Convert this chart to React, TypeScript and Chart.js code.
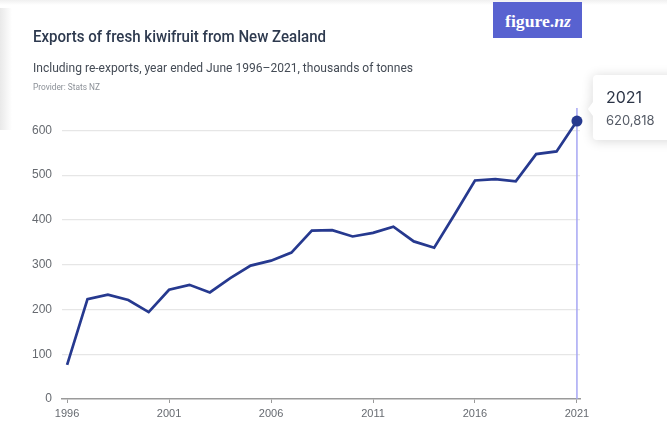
import React, { useEffect, useRef } from "react";
import { Chart, registerables } from "chart.js";

Chart.register(...registerables);

// ---- data ----
const years = [
  1996, 1997, 1998, 1999, 2000, 2001, 2002, 2003, 2004, 2005, 2006, 2007, 2008,
  2009, 2010, 2011, 2012, 2013, 2014, 2015, 2016, 2017, 2018, 2019, 2020, 2021,
];
const exportsThousandTonnes = [
  76, 223, 233, 221, 194, 244, 255, 238, 270, 298, 309, 327, 376, 377, 363, 371,
  385, 352, 338, 412, 488, 491, 486, 547, 553, 620.818,
];
const xTickYears = [1996, 2001, 2006, 2011, 2016, 2021];
const yTickValues = [0, 100, 200, 300, 400, 500, 600];

const titleText = "Exports of fresh kiwifruit from New Zealand";
const subtitleText = "Including re-exports, year ended June 1996–2021, thousands of tonnes";
const providerText = "Provider: Stats NZ";
const tooltipTitle = "2021";
const tooltipValue = "620,818";

const LINE_COLOR = "#26398f";
const HEAD_FONT = "'Roboto', 'Liberation Sans', sans-serif";
const TICK_FONT = "'Liberation Sans', 'Roboto', sans-serif";

const highlightPlugin = {
  id: "highlight",
  beforeDatasetsDraw(chart: any) {
    const meta = chart.getDatasetMeta(0);
    const pt = meta.data[meta.data.length - 1];
    const { top, bottom } = chart.chartArea;
    const ctx = chart.ctx;
    ctx.save();
    ctx.strokeStyle = "#a6a6f3";
    ctx.lineWidth = 1.5;
    ctx.beginPath();
    ctx.moveTo(pt.x, top);
    ctx.lineTo(pt.x, bottom);
    ctx.stroke();
    ctx.restore();
  },
  afterDraw(chart: any) {
    const meta = chart.getDatasetMeta(0);
    const pt = meta.data[meta.data.length - 1];
    const ctx = chart.ctx;
    const bx = pt.x + 16;
    const by = pt.y - 46;
    const bw = 100;
    const bh = 65;
    const r = 4;
    ctx.save();
    ctx.shadowColor = "rgba(0,0,0,0.16)";
    ctx.shadowBlur = 12;
    ctx.shadowOffsetX = 0;
    ctx.shadowOffsetY = 1;
    ctx.fillStyle = "#ffffff";
    ctx.beginPath();
    ctx.moveTo(bx + r, by);
    ctx.lineTo(bx + bw - r, by);
    ctx.quadraticCurveTo(bx + bw, by, bx + bw, by + r);
    ctx.lineTo(bx + bw, by + bh - r);
    ctx.quadraticCurveTo(bx + bw, by + bh, bx + bw - r, by + bh);
    ctx.lineTo(bx + r, by + bh);
    ctx.quadraticCurveTo(bx, by + bh, bx, by + bh - r);
    ctx.lineTo(bx, pt.y - 5);
    ctx.lineTo(bx - 5, pt.y - 12);
    ctx.lineTo(bx, pt.y - 19);
    ctx.lineTo(bx, by + r);
    ctx.quadraticCurveTo(bx, by, bx + r, by);
    ctx.closePath();
    ctx.fill();
    ctx.restore();

    ctx.save();
    ctx.textAlign = "left";
    ctx.textBaseline = "alphabetic";
    ctx.fillStyle = "#2c3547";
    ctx.font = "16px 'Inter', 'Liberation Sans', sans-serif";
    ctx.fillText(tooltipTitle, bx + 13, pt.y - 18);
    ctx.fillStyle = "#555b66";
    ctx.font = "13px 'Inter', 'Liberation Sans', sans-serif";
    ctx.fillText(tooltipValue, bx + 13, pt.y + 4);
    ctx.restore();
  },
};

function FitText(props: {
  text: React.ReactNode;
  left: number;
  baseline: number;
  size: number;
  width: number;
  color: string;
  weight?: number | string;
  family?: string;
}) {
  const ref = useRef<HTMLDivElement | null>(null);
  useEffect(() => {
    const el = ref.current;
    if (!el) return;
    el.style.transform = "none";
    const w = el.getBoundingClientRect().width;
    if (w > 0) el.style.transform = `scaleX(${props.width / w})`;
  }, []);
  const fam = props.family || HEAD_FONT;
  const top = props.baseline - props.size * (1 - (1.171 - 1) / 2 - 0.244);
  return (
    <div
      ref={ref}
      style={{
        position: "absolute",
        left: props.left,
        top,
        fontFamily: fam,
        fontSize: props.size,
        fontWeight: props.weight || 400,
        lineHeight: `${props.size}px`,
        color: props.color,
        whiteSpace: "nowrap",
        transformOrigin: "left center",
        display: "inline-block",
      }}
    >
      {props.text}
    </div>
  );
}

export default function App() {
  const canvasRef = useRef<HTMLCanvasElement | null>(null);

  useEffect(() => {
    if (!canvasRef.current) return;
    const lastIdx = years.length - 1;
    const chart = new Chart(canvasRef.current, {
      type: "line",
      data: {
        datasets: [
          {
            data: years.map((y, i) => ({ x: y, y: exportsThousandTonnes[i] })),
            borderColor: LINE_COLOR,
            backgroundColor: LINE_COLOR,
            borderWidth: 2.7,
            tension: 0,
            clip: false,
            pointRadius: (c: any) => (c.dataIndex === lastIdx ? 5.5 : 0),
            pointBackgroundColor: LINE_COLOR,
            pointBorderWidth: 0,
          },
        ],
      },
      options: {
        responsive: false,
        animation: false,
        events: [],
        layout: { padding: { left: 0, right: 87, top: 108, bottom: 0 } },
        plugins: {
          legend: { display: false },
          tooltip: { enabled: false },
          title: { display: false },
        },
        scales: {
          x: {
            type: "linear",
            min: 1995.75,
            max: 2021.15,
            afterBuildTicks: (scale: any) => {
              scale.ticks = xTickYears.map((v) => ({ value: v }));
            },
            afterFit: (scale: any) => {
              scale.height = 25;
            },
            grid: {
              drawOnChartArea: false,
              drawTicks: true,
              tickLength: 4,
              color: "#9a9a9a",
              lineWidth: 1,
            },
            border: { display: true, color: "#9a9a9a", width: 1.5 },
            ticks: {
              autoSkip: false,
              maxRotation: 0,
              padding: 4,
              color: "#666a70",
              font: { family: TICK_FONT, size: 11 },
              callback: (v: any) => String(v),
            },
          },
          y: {
            type: "linear",
            min: 0,
            max: 650,
            afterBuildTicks: (scale: any) => {
              scale.ticks = yTickValues.map((v) => ({ value: v }));
            },
            afterFit: (scale: any) => {
              scale.width = 62;
            },
            grid: {
              drawTicks: false,
              color: (c: any) => (c.tick && c.tick.value === 0 ? "rgba(0,0,0,0)" : "#e6e6e6"),
              lineWidth: 1.2,
            },
            border: { display: false },
            ticks: {
              padding: 10,
              color: "#666a70",
              font: { family: TICK_FONT, size: 12 },
            },
          },
        },
      },
      plugins: [highlightPlugin],
    } as any);
    return () => chart.destroy();
  }, []);

  return (
    <div
      style={{
        position: "absolute",
        left: 0,
        top: 0,
        width: 667,
        height: 424,
        background: "#ffffff",
        overflow: "hidden",
      }}
    >
      <div
        style={{
          position: "absolute",
          left: 0,
          top: 8,
          width: 12,
          height: 122,
          background: "linear-gradient(to right, #e9e9e9, rgba(255,255,255,0))",
        }}
      />
      <div
        style={{
          position: "absolute",
          left: 0,
          top: 0,
          width: 667,
          height: 5,
          background: "linear-gradient(to bottom, #f0f0f0, rgba(255,255,255,0))",
        }}
      />
      <canvas
        ref={canvasRef}
        width={667}
        height={424}
        style={{ position: "absolute", left: 0, top: 0, width: 667, height: 424 }}
      />
      <FitText text={titleText} left={33} baseline={39.5} size={17} width={293} color="#2e3a4f" weight={500} />
      <FitText text={subtitleText} left={33} baseline={70} size={13} width={380} color="#444b55" />
      <FitText text={providerText} left={33} baseline={89} size={8.5} width={67} color="#8b9097" />
      <div
        style={{
          position: "absolute",
          left: 493,
          top: 2,
          width: 89,
          height: 36,
          background: "#5862d0",
        }}
      />
      <FitText
        text={
          <>
            figure.<span style={{ fontStyle: "italic" }}>nz</span>
          </>
        }
        left={505}
        baseline={24}
        size={17}
        width={66}
        color="#ffffff"
        weight="bold"
        family="'Liberation Serif', 'DejaVu Serif', serif"
      />
    </div>
  );
}
